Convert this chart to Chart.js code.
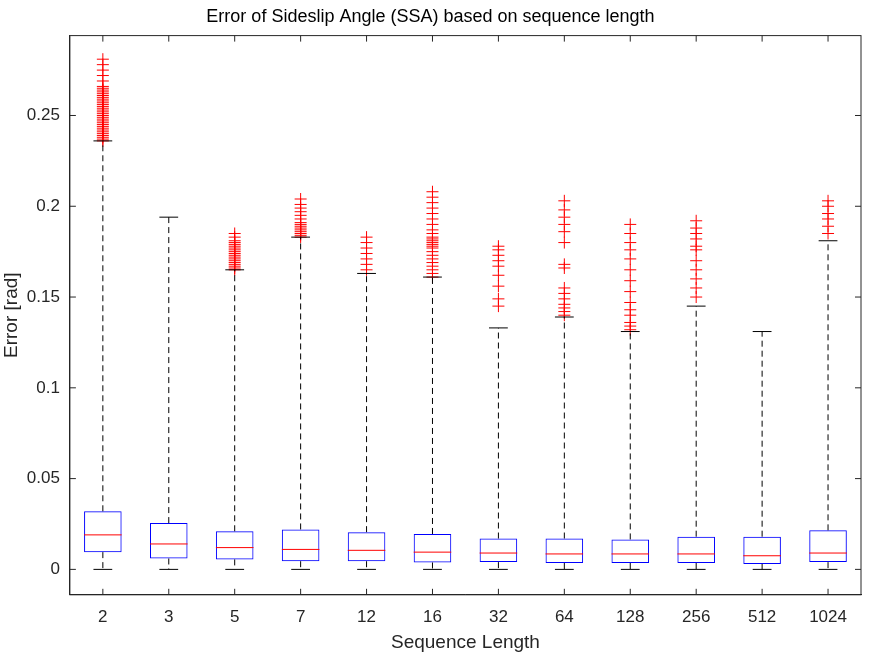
<!DOCTYPE html>
<html lang="en">
<head>
<meta charset="UTF-8" />
<title>Error of Sideslip Angle boxplot</title>
<script src="https://cdn.jsdelivr.net/npm/chart.js@4"></script>
<style>
  body { margin: 0; background: #fff; }
  #wrap { width: 875px; height: 656px; }
</style>
</head>
<body>
<div id="wrap"><canvas id="box"></canvas></div>
<script>
const lengths = ['2', '3', '5', '7', '12', '16', '32', '64', '128', '256', '512', '1024'];
const lowWhisker = [0, 0, 0, 0, 0, 0, 0, 0, 0, 0, 0, 0];
const q1 = [0.0095, 0.006, 0.0055, 0.0045, 0.0045, 0.0038, 0.004, 0.0035, 0.0035, 0.0035, 0.003, 0.004];
const medians = [0.019, 0.014, 0.012, 0.011, 0.0105, 0.0095, 0.009, 0.0085, 0.0085, 0.0085, 0.0075, 0.009];
const q3 = [0.032, 0.0255, 0.021, 0.022, 0.0205, 0.0195, 0.017, 0.017, 0.0165, 0.018, 0.018, 0.0215];
const highWhisker = [0.236, 0.194, 0.165, 0.183, 0.163, 0.161, 0.133, 0.139, 0.131, 0.145, 0.131, 0.181];
const outliers = {
  '2': [0.236, 0.237, 0.238, 0.239, 0.24, 0.241, 0.242, 0.243, 0.244, 0.245, 0.246, 0.247, 0.248, 0.249, 0.25, 0.251, 0.252, 0.253, 0.254, 0.255, 0.256, 0.257, 0.258, 0.259, 0.26, 0.261, 0.262, 0.263, 0.264, 0.265, 0.266, 0.269, 0.272, 0.275, 0.278, 0.281],
  '3': [],
  '5': [0.165, 0.166, 0.167, 0.168, 0.169, 0.17, 0.171, 0.172, 0.173, 0.174, 0.175, 0.176, 0.177, 0.178, 0.179, 0.18, 0.181, 0.183, 0.185],
  '7': [0.183, 0.184, 0.185, 0.186, 0.187, 0.188, 0.189, 0.19, 0.191, 0.193, 0.195, 0.197, 0.199, 0.201, 0.204],
  '12': [0.165, 0.168, 0.171, 0.174, 0.177, 0.18, 0.183],
  '16': [0.161, 0.163, 0.165, 0.167, 0.169, 0.171, 0.173, 0.175, 0.177, 0.178, 0.179, 0.18, 0.181, 0.182, 0.183, 0.185, 0.187, 0.19, 0.193, 0.196, 0.199, 0.202, 0.205, 0.208],
  '32': [0.145, 0.149, 0.156, 0.162, 0.167, 0.17, 0.173, 0.176, 0.178],
  '64': [0.14, 0.142, 0.144, 0.146, 0.149, 0.152, 0.155, 0.166, 0.168, 0.18, 0.186, 0.19, 0.194, 0.198, 0.203],
  '128': [0.132, 0.134, 0.136, 0.14, 0.143, 0.147, 0.153, 0.159, 0.165, 0.171, 0.176, 0.18, 0.185, 0.19],
  '256': [0.15, 0.155, 0.16, 0.165, 0.17, 0.176, 0.178, 0.182, 0.185, 0.188, 0.192],
  '512': [],
  '1024': [0.185, 0.189, 0.193, 0.196, 0.2, 0.203]
};
const yTicks = [0, 0.05, 0.1, 0.15, 0.2, 0.25];

const outlierPoints = [];
lengths.forEach(l => outliers[l].forEach(v => outlierPoints.push({ x: l, y: v })));

// whiskers, caps, medians, tick marks and frame drawn through chart scales
const boxExtras = {
  id: 'boxExtras',
  afterDatasetsDraw(chart) {
    const { ctx, chartArea: a, scales: { x, y } } = chart;
    const meta = chart.getDatasetMeta(0);
    ctx.save();
    lengths.forEach((l, i) => {
      const cx = x.getPixelForValue(i);
      const half = meta.data[i].width / 2;
      const capHalf = half / 2;
      ctx.lineWidth = 1;
      ctx.strokeStyle = '#000';
      ctx.setLineDash([6, 4]);
      ctx.beginPath();
      ctx.moveTo(cx, y.getPixelForValue(q3[i]));
      ctx.lineTo(cx, y.getPixelForValue(highWhisker[i]));
      ctx.moveTo(cx, y.getPixelForValue(q1[i]));
      ctx.lineTo(cx, y.getPixelForValue(lowWhisker[i]));
      ctx.stroke();
      ctx.setLineDash([]);
      ctx.beginPath();
      [highWhisker[i], lowWhisker[i]].forEach(v => {
        const py = y.getPixelForValue(v);
        ctx.moveTo(cx - capHalf, py);
        ctx.lineTo(cx + capHalf, py);
      });
      ctx.stroke();
      ctx.strokeStyle = '#ff0000';
      ctx.beginPath();
      const my = y.getPixelForValue(medians[i]);
      ctx.moveTo(cx - half, my);
      ctx.lineTo(cx + half, my);
      ctx.stroke();
    });
    ctx.strokeStyle = '#262626';
    ctx.lineWidth = 1;
    ctx.beginPath();
    lengths.forEach((l, i) => {
      const cx = x.getPixelForValue(i);
      ctx.moveTo(cx, a.bottom); ctx.lineTo(cx, a.bottom - 6);
      ctx.moveTo(cx, a.top); ctx.lineTo(cx, a.top + 6);
    });
    yTicks.forEach(v => {
      const py = y.getPixelForValue(v);
      ctx.moveTo(a.left, py); ctx.lineTo(a.left + 6, py);
      ctx.moveTo(a.right, py); ctx.lineTo(a.right - 6, py);
    });
    ctx.stroke();
    ctx.strokeRect(a.left, a.top, a.right - a.left, a.bottom - a.top);
    ctx.restore();
  }
};

const font = 'Liberation Sans';
new Chart(document.getElementById('box'), {
  type: 'bar',
  data: {
    labels: lengths,
    datasets: [
      {
        label: 'box',
        data: lengths.map((l, i) => [q1[i], q3[i]]),
        backgroundColor: 'rgba(0,0,0,0)',
        borderColor: '#0000ff',
        borderWidth: 1,
        borderSkipped: false,
        categoryPercentage: 1,
        barPercentage: 0.57
      },
      {
        type: 'scatter',
        label: 'outliers',
        data: outlierPoints,
        pointStyle: 'cross',
        pointRadius: 6,
        borderColor: '#ff0000',
        borderWidth: 1
      }
    ]
  },
  options: {
    responsive: true,
    maintainAspectRatio: false,
    animation: false,
    layout: { padding: { left: 0, right: 14, top: 4, bottom: 2 } },
    plugins: {
      legend: { display: false },
      tooltip: { enabled: false },
      title: {
        display: true,
        text: 'Error of Sideslip Angle (SSA) based on sequence length',
        color: '#000',
        font: { family: font, size: 18, weight: 'normal' },
        padding: { top: 2, bottom: 8 }
      }
    },
    scales: {
      x: {
        type: 'category',
        offset: true,
        grid: { display: false },
        border: { color: '#262626' },
        ticks: { color: '#262626', font: { family: font, size: 17 }, padding: 4 },
        title: { display: true, text: 'Sequence Length', color: '#262626', font: { family: font, size: 19 }, padding: { top: 0, bottom: 0 } }
      },
      y: {
        min: -0.014,
        max: 0.294,
        afterBuildTicks: s => { s.ticks = yTicks.map(v => ({ value: v })); },
        grid: { display: false },
        border: { color: '#262626' },
        ticks: { color: '#262626', font: { family: font, size: 17 }, padding: 2, callback: v => String(+v.toFixed(2)) },
        title: { display: true, text: 'Error [rad]', color: '#262626', font: { family: font, size: 19 }, padding: { top: 0, bottom: 2 } }
      }
    }
  },
  plugins: [boxExtras]
});
</script>
</body>
</html>
